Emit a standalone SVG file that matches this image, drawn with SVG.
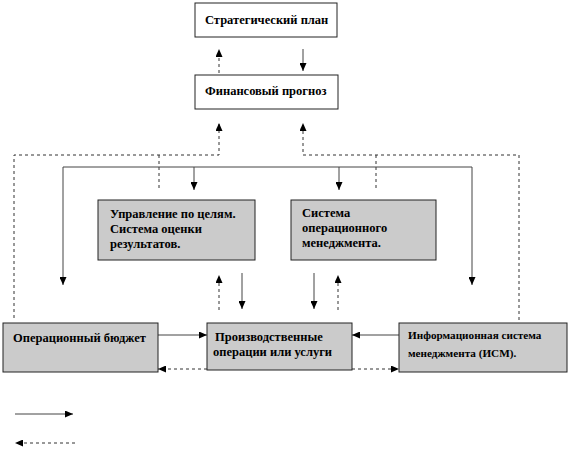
<svg xmlns="http://www.w3.org/2000/svg" width="570" height="449" viewBox="0 0 570 449">
<defs>
<marker id="ah" markerWidth="8" markerHeight="7" refX="8" refY="3.5" orient="auto" markerUnits="userSpaceOnUse">
<path d="M0,0 L8,3.5 L0,7 z" fill="#000"/>
</marker>
</defs>
<style>
.box{fill:#ffffff;stroke:#222;stroke-width:1}
.gbox{fill:#cbcbcb;stroke:#222;stroke-width:1}
text{font-family:"Liberation Serif","Times New Roman","DejaVu Serif",serif;font-weight:bold;font-size:12.5px;fill:#000}
.sm{font-size:11.2px}
.s{fill:none;stroke:#444;stroke-width:1}
.d{fill:none;stroke:#333;stroke-width:1;stroke-dasharray:3,3}
.a{marker-end:url(#ah)}
</style>
<rect width="570" height="449" fill="#fff"/>
<g id="connectors">
<path class="s a" d="M303,49 V71"/>
<path class="d a" d="M219,73 V49"/>
<path class="d a" d="M14,318 V155 H219 V123"/>
<path class="d a" d="M519,320 V155 H303 V123"/>
<path class="d" d="M159,155 V190"/>
<path class="d" d="M376,155 V190"/>
<path class="s" d="M63,167 H472"/>
<path class="s a" d="M63,167 V285"/>
<path class="s a" d="M472,167 V285"/>
<path class="s a" d="M194,167 V190"/>
<path class="s a" d="M339,167 V190"/>
<path class="d a" d="M219,310 V275"/>
<path class="d a" d="M338,310 V275"/>
<path class="s a" d="M242,273 V309"/>
<path class="s a" d="M314,273 V309"/>
<path class="s a" d="M158,335 H207"/>
<path class="s a" d="M399,335 H352"/>
<path class="d a" d="M207,369 H158"/>
<path class="d a" d="M352,369 H399"/>
<path class="s a" d="M15,414 H73"/>
<path class="d a" d="M75,443 H15"/>
</g>
<g id="strategic">
<rect class="box" x="195" y="3" width="142" height="34"/>
<text x="205" y="24">Стратегический план</text>
</g>
<g id="forecast">
<rect class="box" x="195" y="75" width="143" height="34"/>
<text x="205" y="95">Финансовый прогноз</text>
</g>
<g id="mbo">
<rect class="gbox" x="98" y="200" width="157" height="60"/>
<text x="110" y="218">Управление по целям.</text>
<text x="110" y="233">Система оценки</text>
<text x="110" y="248">результатов.</text>
</g>
<g id="opmgmt">
<rect class="gbox" x="291" y="200" width="145" height="60"/>
<text x="302" y="217">Система</text>
<text x="302" y="232">операционного</text>
<text x="302" y="247">менеджмента.</text>
</g>
<g id="budget">
<rect class="gbox" x="3" y="323" width="155" height="49"/>
<text x="13" y="342">Операционный бюджет</text>
</g>
<g id="production">
<rect class="gbox" x="207" y="323" width="145" height="47"/>
<text x="215" y="341">Производственные</text>
<text x="213" y="356">операции или услуги</text>
</g>
<g id="ism">
<rect class="gbox" x="399" y="323" width="168" height="49"/>
<text class="sm" x="408" y="339">Информационная система</text>
<text class="sm" x="408" y="357">менеджмента  (ИСМ).</text>
</g>
</svg>
